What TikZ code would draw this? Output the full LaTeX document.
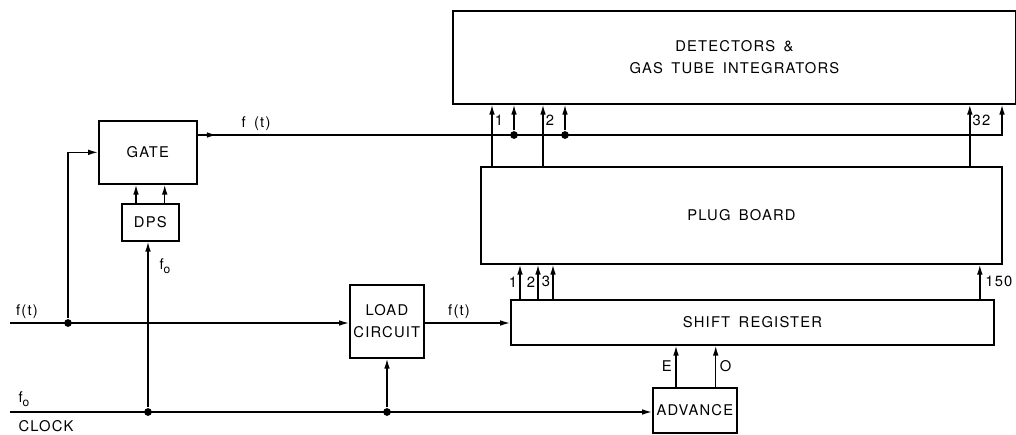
\documentclass[tikz,border=0pt]{standalone}
\usepackage{fontspec}
\setsansfont{TeX Gyre Heros}[LetterSpace=8, WordSpace=1.6]
\usetikzlibrary{arrows.meta, positioning}
\newcommand{\subo}{\raisebox{-0.45ex}{\fontsize{8.5}{9}\selectfont o}}

\begin{document}
\begin{tikzpicture}[x=0.025cm, y=-0.025cm, line width=1pt, >={Latex[length=7pt,width=4pt]},
  box/.style={draw, line width=1.2pt, anchor=north west, inner sep=0pt, align=center,
    font=\sffamily\fontsize{10.5}{15.5}\selectfont},
  sig/.style={->},
  dot/.style={circle, fill, inner sep=0pt, minimum size=5.5pt},
  lbl/.style={font=\sffamily\fontsize{10.5}{12}\selectfont, inner sep=1.5pt}]
\useasboundingbox (0,0) rectangle (1016,434);

% Blocks
\node[box, minimum width=14.075cm, minimum height=2.325cm] (det) at (452,10) {DETECTORS \&\\GAS TUBE INTEGRATORS};
\node[box, minimum width=13.025cm, minimum height=2.425cm] (plug) at (480,166) {PLUG BOARD};
\node[box, minimum width=12.075cm, minimum height=1.125cm] (sr) at (510,299) {SHIFT REGISTER};
\node[box, minimum width=2.45cm, minimum height=1.575cm] (gate) at (98,120) {GATE};
\node[box, minimum width=1.425cm, minimum height=0.925cm] (dps) at (121,203) {DPS};
\node[box, minimum width=1.85cm, minimum height=1.825cm] (load) at (349,284) {LOAD\\CIRCUIT};
\node[box, minimum width=2.1cm, minimum height=1.125cm] (adv) at (652,387) {ADVANCE};

% Line ends and junctions
\coordinate (ftin) at (10,323);
\coordinate (clkin) at (10,412);
\coordinate (ftbus) at (1002,135);
\node[dot] (d1) at (68,323) {};
\node[dot] (d2) at (148,412) {};
\node[dot] (d3) at (387,412) {};
\node[dot] (d4) at (514,135) {};
\node[dot] (d5) at (565,135) {};

% Input lines
\draw[sig] (ftin) -- (load.west |- ftin);
\draw[sig] (clkin) -- (adv.west |- clkin);
\draw[sig] (d1) |- (gate.west);
\draw[sig] (d2) -- (d2 |- dps.south);
\draw[sig] (d3) -- (d3 |- load.south);
\draw[sig] (load.east |- ftin) -- (sr.west |- ftin);

\node[lbl] (ftl) at (27,312) {f(t)};
\node[lbl] (f0l) at (24,399) {f\subo};
\node[lbl] (clk) at (46,426) {CLOCK};
\node[lbl] (f0d) at (165,266) {f\subo};
\node[lbl] (ftr) at (459,312) {f(t)};

% DPS to gate
\path (dps.north west) ++(15,0) coordinate (g1) (dps.north east) ++(-15,0) coordinate (g2);
\foreach \c in {g1,g2}
  \draw[sig] (\c) -- (\c |- gate.south);

% Gate output bus
\draw[sig] (gate.east |- ftbus) -- ++(19,0);
\draw[sig] (gate.east |- ftbus) -- (ftbus) -- (ftbus |- det.south);
\node[lbl] (ftg) at (256,124) {f (t)};
\draw[sig] (d4) -- (d4 |- det.south);
\draw[sig] (d5) -- (d5 |- det.south);

% Plug board to detectors
\path (plug.north west) ++(12,0) coordinate (p1) (plug.north west) ++(63,0) coordinate (p2)
  (plug.north east) ++(-33,0) coordinate (p3);
\foreach \c/\t in {p1/1, p2/2, p3/32}
  \draw[sig] (\c) -- node[lbl, pos=0.75, right] {\t} (\c |- det.south);

% Shift register to plug board
\foreach \dx [count=\i] in {10,28,43} {
  \path (sr.north west) ++(\dx,0) coordinate (s\i);
  \draw[sig] (s\i) -- node[lbl, left] {\i} (s\i |- plug.south);
}
\path (sr.north east) ++(-15,0) coordinate (s4);
\draw[sig] (s4) -- node[lbl, right=2pt] {150} (s4 |- plug.south);

% Advance to shift register
\path (adv.north west) ++(24,0) coordinate (a1) (adv.north east) ++(-22,0) coordinate (a2);
\draw[sig] (a1) -- node[lbl, left=1pt] {E} (a1 |- sr.south);
\draw[sig] (a2) -- node[lbl, right=1pt] {O} (a2 |- sr.south);

\end{tikzpicture}
\end{document}
